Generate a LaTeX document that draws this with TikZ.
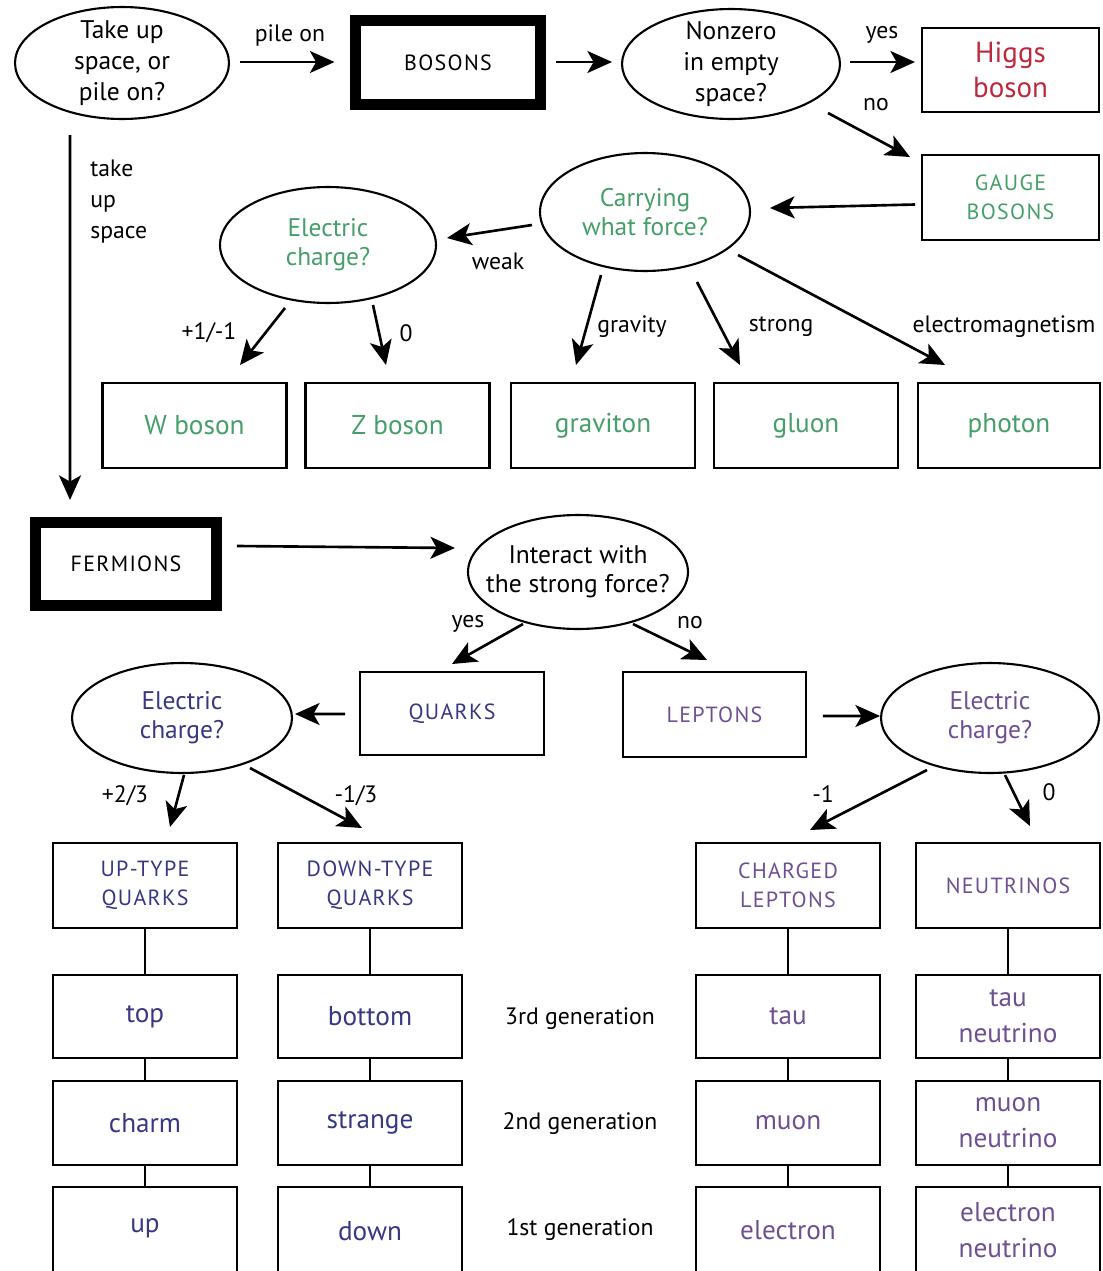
\documentclass[tikz,border=0pt]{standalone}
\usepackage{fontspec}
\setmainfont{PT Sans}
\newfontfamily\capsfont[LetterSpace=6]{PT Sans}
\usetikzlibrary{shapes.geometric,arrows.meta,calc}
\definecolor{gr}{RGB}{70,158,105}
\definecolor{rd}{RGB}{190,40,60}
\definecolor{qb}{RGB}{55,55,130}
\definecolor{lp}{RGB}{110,80,145}
\begin{document}
\begin{tikzpicture}[x=0.02cm,y=-0.02cm,
  box/.style={draw, line width=1.4pt, rectangle, inner sep=0pt, outer sep=0pt, align=center, minimum width=3.68cm, minimum height=1.7cm},
  heavybox/.style={draw, line width=6.2pt, rectangle, inner sep=0pt, outer sep=0pt, align=center},
  oval/.style={draw, ellipse, line width=1.2pt, inner sep=0pt, outer sep=0pt},
  arr/.style={line width=1.5pt, -{Stealth[length=14pt,width=12.5pt,inset=3.5pt]}},
  link/.style={line width=1.4pt},
  lbl/.style={font=\fontsize{13.5}{15}\selectfont, inner sep=0pt},
  big/.style={font=\fontsize{15.5}{20.5}\selectfont},
  bigger/.style={font=\fontsize{16.5}{20}\selectfont},
  caps/.style={font=\capsfont\fontsize{12.5}{16.5}\selectfont},
  q/.style={font=\fontsize{14.5}{16.5}\selectfont, align=center, inner sep=0pt}
]
\useasboundingbox (0,0) rectangle (1102,1271);

% ---------- bosons part ----------
\node[oval, minimum width=4.28cm, minimum height=2.24cm] (e1) at (122,63) {};
\node[q, font=\fontsize{14.5}{17.5}\selectfont] (e1t) at (e1) {Take up\\space, or\\pile on?};

\node[heavybox, caps, minimum width=3.70cm, minimum height=1.68cm] (bosons) at (448,62.5) {BOSONS};

\node[oval, minimum width=4.36cm, minimum height=2.2cm] (e2) at (731,64) {};
\node[q, font=\fontsize{14.5}{17.5}\selectfont] (e2t) at (e2) {Nonzero\\in empty\\space?};

\node[box, bigger, text=rd, minimum width=3.54cm, minimum height=1.68cm] (higgs) at (1010.5,70) {Higgs\\boson};
\node[box, caps, text=gr, minimum width=3.54cm, minimum height=1.7cm] (gauge) at (1010.5,197.5) {GAUGE\\BOSONS};

\node[oval, minimum width=4.2cm, minimum height=2.36cm] (e3) at (645,212) {};
\node[q, text=gr] (e3t) at (e3) {Carrying\\what force?};

\node[oval, minimum width=4.32cm, minimum height=2.32cm] (e4) at (328,245) {};
\node[q, text=gr] (e4t) at (e4) {Electric\\charge?};

\node[box, big, text=gr] (wb) at (194.5,425.5) {W boson};
\node[box, big, text=gr] (zb) at (397.5,425.5) {Z boson};
\node[box, big, text=gr] (grav) at (603,425.5) {graviton};
\node[box, big, text=gr] (glu) at (806,425.5) {gluon};
\node[box, big, text=gr, minimum width=3.64cm] (pho) at (1009,425.5) {photon};

% arrows bosons
\draw[arr] ($(e1.east)+(11,-1)$) -- ($(bosons.west)+(-21,-0.5)$);
\node[lbl] (lpile) at (290,35) {pile on};
\draw[arr] ($(bosons.east)+(16,-0.5)$) -- ($(e2.west)+(-10,-2)$);
\draw[arr] ($(e2.east)+(10,-2)$) -- ($(higgs.west)+(-7,-8)$);
\node[lbl] (lyes1) at (882,35) {yes};
\draw[arr] ($(e2.center)+(97,49)$) -- ($(gauge.north west)+(-12,2)$);
\node[lbl] (lno1) at (876,105) {no};
\draw[arr] ($(gauge.west)+(-7,7)$) -- ($(e3.east)+(20,-4)$);
\draw[arr] ($(e3.west)+(-8,13)$) -- ($(e4.east)+(11,-7)$);
\node[lbl] (lweak) at (498,261) {weak};
\draw[arr] ($(e4.center)+(-43,63)$) -- ($(wb.north)+(45.5,-18)$);
\node[lbl] (lpm) at (209,333) {+1/-1};
\draw[arr] ($(e4.center)+(45,60)$) -- ($(zb.north)+(-11.5,-18)$);
\node[lbl] (lz0) at (406,333) {0};
\draw[arr] ($(e3.center)+(-44,63)$) -- ($(grav.north)+(-27,-18)$);
\node[lbl] (lgrav) at (632,327) {gravity};
\draw[arr] ($(e3.center)+(52,70)$) -- ($(glu.north)+(-66,-18)$);
\node[lbl] (lstrong) at (781,327) {strong};
\draw[arr] ($(e3.center)+(93,43)$) -- ($(pho.north)+(-64,-18)$);
\node[lbl] (lem) at (1004,327) {electromagnetism};

% ---------- fermions part ----------
\node[heavybox, caps, minimum width=3.62cm, minimum height=1.66cm] (fermions) at (126,564) {FERMIONS};
\draw[arr] ($(e1.center)+(-52,72)$) -- ($(fermions.north west)+(34.5,-22.5)$);
\node[lbl, align=left, anchor=north west, font=\fontsize{13.5}{17.5}\selectfont] (ltake) at (90,160) {take\\up\\space};

\node[oval, minimum width=4.4cm, minimum height=2.28cm] (e5) at (578,572) {};
\node[q] (e5t) at (e5) {Interact with\\the strong force?};
\draw[arr] ($(fermions.east)+(20.5,-18)$) -- ($(e5.west)+(-13,-24)$);

\node[box, caps, text=qb, minimum height=1.66cm] (quarks) at (452,713.5) {QUARKS};
\node[box, caps, text=lp, minimum width=3.66cm] (leptons) at (714.5,714.5) {LEPTONS};
\draw[arr] ($(e5.center)+(-55,52)$) -- ($(quarks.north)+(0,-8)$);
\node[lbl] (lyes2) at (468,624) {yes};
\draw[arr] ($(e5.center)+(55,52)$) -- ($(leptons.north)+(-7.5,-12)$);
\node[lbl] (lno2) at (690,623) {no};

\node[oval, minimum width=4.4cm, minimum height=2.2cm] (e6) at (182,718) {};
\node[q, text=qb] (e6t) at (e6) {Electric\\charge?};
\node[oval, minimum width=4.36cm, minimum height=2.2cm] (e7) at (990,718) {};
\node[q, text=lp] (e7t) at (e7) {Electric\\charge?};
\draw[arr] ($(quarks.west)+(-15,0.5)$) -- ($(e6.east)+(3,-4)$);
\draw[arr] ($(leptons.east)+(17,1.5)$) -- ($(e7.west)+(-1,-2)$);

\node[box, caps, text=qb] (uptype) at (145,885.5) {UP-TYPE\\QUARKS};
\node[box, caps, text=qb] (downtype) at (370,885.5) {DOWN-TYPE\\QUARKS};
\node[box, caps, text=lp] (charged) at (788,885.5) {CHARGED\\LEPTONS};
\node[box, caps, text=lp] (neutrinos) at (1008,885.5) {NEUTRINOS};

\draw[arr] ($(e6.center)+(2,57)$) -- ($(uptype.north)+(25,-16)$);
\node[lbl] (lp23) at (125,796) {+2/3};
\draw[arr] ($(e6.center)+(68,50)$) -- ($(downtype.north)+(-8,-15)$);
\node[lbl] (lm13) at (356,796) {-1/3};
\draw[arr] ($(e7.center)+(-63,52)$) -- ($(charged.north)+(22,-13)$);
\node[lbl] (lm1) at (823,794) {-1};
\draw[arr] ($(e7.center)+(15,57)$) -- ($(neutrinos.north)+(22,-17)$);
\node[lbl] (ln0) at (1049,792) {0};

% generations
\node[box, big, text=qb, minimum height=1.66cm] (top) at (145,1016.5) {top};
\node[box, big, text=qb, minimum height=1.66cm] (bottom) at (370,1016.5) {bottom};
\node[box, big, text=lp, minimum height=1.66cm] (tau) at (788,1016.5) {tau};
\node[box, big, text=lp, minimum height=1.66cm] (taun) at (1008,1016.5) {tau\\neutrino};

\node[box, big, text=qb, minimum height=1.68cm] (charm) at (145,1123) {charm};
\node[box, big, text=qb, minimum height=1.68cm] (strange) at (370,1123) {strange};
\node[box, big, text=lp, minimum height=1.68cm] (muon) at (788,1123) {muon};
\node[box, big, text=lp, minimum height=1.68cm] (muonn) at (1008,1123) {muon\\neutrino};

\node[box, minimum height=1.76cm] (upb) at (145,1231) {};
\node[big, text=qb, inner sep=0pt] (upt) at (145,1228) {up};
\node[box, minimum height=1.76cm] (downb) at (370,1231) {};
\node[big, text=qb, inner sep=0pt] (downt) at (370,1231) {down};
\node[box, minimum height=1.76cm] (elb) at (788,1231) {};
\node[big, text=lp, inner sep=0pt] (elt) at (788,1230) {electron};
\node[box, minimum height=1.76cm] (elnb) at (1008,1231) {};
\node[big, text=lp, inner sep=0pt, align=center] (elnt) at (1008,1230) {electron\\neutrino};

\node[lbl] (g3) at (580,1019) {3rd generation};
\node[lbl] (g2) at (580,1124) {2nd generation};
\node[lbl] (g1) at (580,1230) {1st generation};

\foreach \a/\b in {uptype/top, top/charm, charm/upb, downtype/bottom, bottom/strange, strange/downb,
                   charged/tau, tau/muon, muon/elb, neutrinos/taun, taun/muonn, muonn/elnb}
  \draw[link] (\a.south) -- (\b.north);
\end{tikzpicture}
\end{document}
